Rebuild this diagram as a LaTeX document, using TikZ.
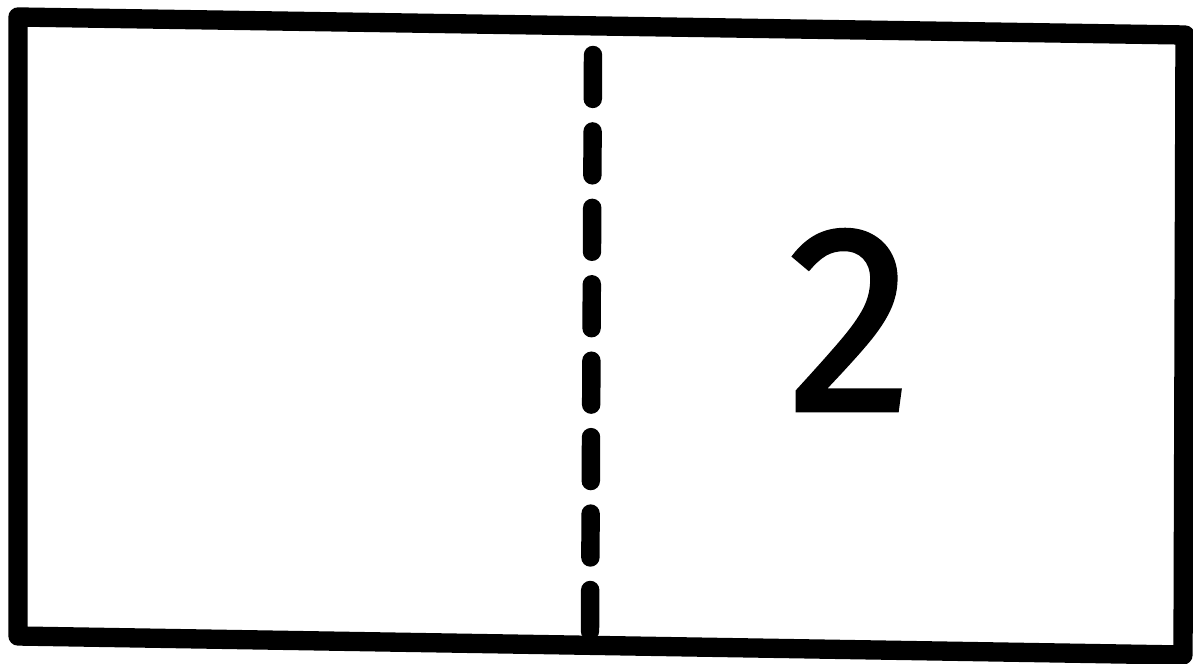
\documentclass[tikz,border=0pt]{standalone}
\usepackage{fontspec}
\newfontfamily\digitfont[FakeBold=1.2]{Fira Sans}
\usepackage{xcolor}
\definecolor{Ink}{HTML}{000000}
\definecolor{Paper}{HTML}{FFFFFF}
\usepackage{tikz}
\usetikzlibrary{positioning}
\tikzset{
  frame/.style={draw=Ink,line width=11pt,line join=round,line cap=round},
  foldline/.style={draw=Ink,line width=10.5pt,line cap=round,dash pattern=on 25pt off 18.5pt},
  digit/.style={inner sep=0pt,text=Ink,font=\digitfont\fontsize{152}{152}\selectfont}
}
\begin{document}
\begin{tikzpicture}[x=0.02cm,y=-0.02cm]
  \useasboundingbox[fill=Paper] (0,0) rectangle (1193,663);
  \coordinate (nw) at (18,17);
  \coordinate (ne) at (1185,35);
  \coordinate (se) at (1183,655);
  \coordinate (sw) at (18,636);
  \coordinate (foldtop) at (593,55);
  \coordinate (foldbot) at (590,631);
  \draw[frame] (nw) -- (ne) -- (se) -- (sw) -- cycle;
  \draw[foldline] (foldtop) -- (foldbot);
  \node[digit,xscale=0.95] (two) at (850,320) {2};
\end{tikzpicture}
\end{document}
